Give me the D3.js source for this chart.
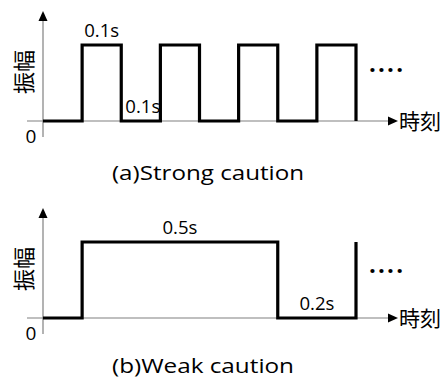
<!DOCTYPE html>
<html>
<head>
<meta charset="utf-8">
<script src="https://cdn.jsdelivr.net/npm/d3@7"></script>
<style>
  html, body { margin: 0; padding: 0; background: #fff; }
  svg { display: block; }
  .lat { font-family: "Open Sans", Lato, sans-serif; fill: #000; }
  .cjk { font-family: "Noto Sans CJK JP", sans-serif; fill: #000; }
</style>
</head>
<body>
<script>
// ---- data ----
const strongTimes  = [0, 0.1, 0.2, 0.3, 0.4, 0.5, 0.6, 0.7, 0.8];
const strongLevels = [0, 1, 0, 1, 0, 1, 0, 1, 0];
const strongLabels = [
  { text: "0.1s", t: 0.15, level: 1 },
  { text: "0.1s", t: 0.255, level: 0 }
];
const weakTimes  = [0, 0.1, 0.6, 0.8];
const weakLevels = [0, 1, 0, 1];
const weakLabels = [
  { text: "0.5s", t: 0.35, level: 1 },
  { text: "0.2s", t: 0.70, level: 0 }
];
const panelTitles = ["(a)Strong caution", "(b)Weak caution"];
const yAxisLabel = "振幅";
const xAxisLabel = "時刻";
const originLabel = "0";

// ---- drawing ----
const W = 446, H = 381;
const svg = d3.select("body").append("svg").attr("width", W).attr("height", H);

const x = d3.scaleLinear().domain([0, 0.8]).range([43, 356]);
const y = d3.scaleLinear().domain([0, 1]).range([121, 45]);

function panel(offsetY, times, levels, labels, title, titleLen, titleY, dotsY) {
  const g = svg.append("g").attr("transform", `translate(0,${offsetY})`);
  const axisColor = "#808080";
  const x0 = x(0), y0 = y(0);

  // x axis
  g.append("line").attr("x1", 27).attr("x2", 390).attr("y1", y0).attr("y2", y0)
    .attr("stroke", axisColor).attr("stroke-width", 1.2);
  g.append("path").attr("d", `M${398},${y0} L${388},${y0 - 4.5} L${388},${y0 + 4.5} Z`).attr("fill", "#000");
  // y axis
  g.append("line").attr("x1", x0).attr("x2", x0).attr("y1", 19).attr("y2", 137)
    .attr("stroke", axisColor).attr("stroke-width", 1.2);
  g.append("path").attr("d", `M${x0},${11} L${x0 - 4.5},${21} L${x0 + 4.5},${21} Z`).attr("fill", "#000");

  // signal
  const pts = times.map((t, i) => [t, levels[i]]);
  const line = d3.line().x(d => x(d[0])).y(d => y(d[1])).curve(d3.curveStepAfter);
  g.append("path").attr("d", line(pts)).attr("fill", "none")
    .attr("stroke", "#000").attr("stroke-width", 3.2).attr("stroke-linejoin", "miter")
    .attr("stroke-linecap", "butt");

  // duration labels
  labels.forEach(l => {
    g.append("text").attr("class", "lat")
      .attr("x", x(l.t)).attr("y", y(l.level) - 8)
      .attr("text-anchor", "middle").attr("font-size", 18)
      .attr("textLength", 35).attr("lengthAdjust", "spacingAndGlyphs").text(l.text);
  });

  // dots
  g.append("text").attr("class", "lat").attr("x", 369).attr("y", dotsY)
    .attr("font-size", 24).attr("font-weight", "bold")
    .attr("textLength", 34).attr("lengthAdjust", "spacing").text("....");

  // origin
  g.append("text").attr("class", "lat").attr("x", 31).attr("y", 143)
    .attr("text-anchor", "middle").attr("font-size", 19).text(originLabel);

  // axis labels
  g.append("text").attr("class", "cjk").attr("x", 399).attr("y", y0 + 8)
    .attr("font-size", 21).text(xAxisLabel);
  g.append("text").attr("class", "cjk")
    .attr("transform", `translate(32,72) rotate(-90)`)
    .attr("text-anchor", "middle").attr("font-size", 22).text(yAxisLabel);

  // title
  g.append("text").attr("class", "lat").attr("x", 112).attr("y", titleY)
    .attr("font-size", 20).attr("textLength", titleLen).attr("lengthAdjust", "spacingAndGlyphs").text(title);
}

panel(0, strongTimes, strongLevels, strongLabels, panelTitles[0], 192, 180, 72);
panel(197, weakTimes, weakLevels, weakLabels, panelTitles[1], 182, 176, 76);
</script>
</body>
</html>
